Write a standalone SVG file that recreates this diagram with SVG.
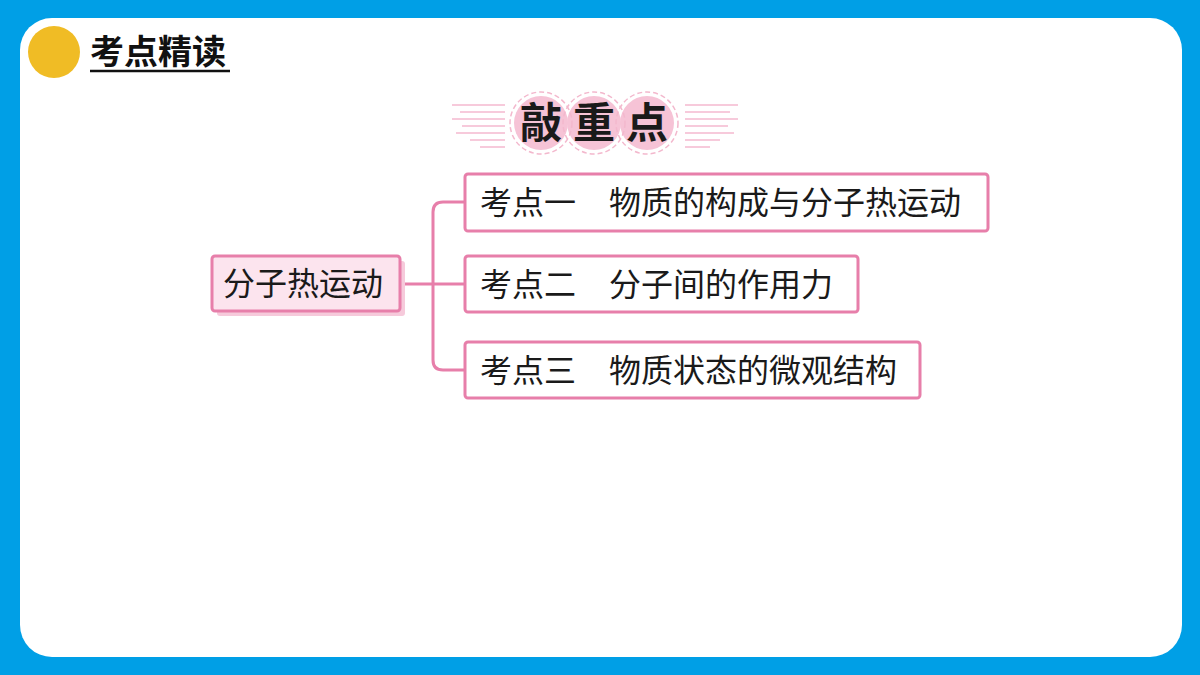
<svg xmlns="http://www.w3.org/2000/svg" width="1200" height="675" viewBox="0 0 1200 675">
<style>
.cjk{font-family:"Noto Sans CJK SC","Noto Sans",sans-serif;}
.box{fill:#ffffff;stroke:#E77FAA;stroke-width:3;}
.t{font-size:32px;fill:#1a1a1a;}
.conn{fill:none;stroke:#E77FAA;stroke-width:3;}
.dl{stroke:#F7CADB;stroke-width:2;fill:none;}
</style>
<rect x="0" y="0" width="1200" height="675" fill="#009FE6"/>
<rect x="20" y="18" width="1162" height="639" rx="32" fill="#ffffff"/>
<g id="header">
<circle cx="54" cy="52" r="26" fill="#F0BC25"/>
<text x="90" y="64" class="cjk" font-size="34" font-weight="bold" fill="#111">考点精读</text>
<line x1="90" y1="71" x2="230" y2="71" stroke="#111" stroke-width="2.5"/>
</g>
<g id="banner">
<g class="dl">
<path d="M452 105 H505 M460 112 H505 M452 119 H505 M462 126 H505 M456 133 H505 M470 140 H505 M480 147 H505"/>
<path d="M738 105 H685 M730 112 H685 M738 119 H685 M728 126 H685 M734 133 H685 M720 140 H685 M710 147 H685"/>
</g>
<circle cx="541" cy="123" r="27" fill="#F6C3D6"/>
<circle cx="594" cy="123" r="27" fill="#F6C3D6"/>
<circle cx="647" cy="123" r="27" fill="#F6C3D6"/>
<circle cx="541" cy="123" r="31" fill="none" stroke="#F3B8CD" stroke-width="1.5" stroke-dasharray="5 3"/>
<circle cx="594" cy="123" r="31" fill="none" stroke="#F3B8CD" stroke-width="1.5" stroke-dasharray="5 3"/>
<circle cx="647" cy="123" r="31" fill="none" stroke="#F3B8CD" stroke-width="1.5" stroke-dasharray="5 3"/>
<text x="541" y="138" text-anchor="middle" class="cjk" font-size="42" font-weight="bold" fill="#1a1a1a">敲</text>
<text x="594" y="138" text-anchor="middle" class="cjk" font-size="42" font-weight="bold" fill="#1a1a1a">重</text>
<text x="647" y="138" text-anchor="middle" class="cjk" font-size="42" font-weight="bold" fill="#1a1a1a">点</text>
</g>
<g id="connectors">
<path class="conn" d="M400 284 H433"/>
<path class="conn" d="M465 202 H443 Q433 202 433 212 V360 Q433 370 443 370 H465"/>
<path class="conn" d="M433 284 H465"/>
</g>
<g id="root">
<rect x="217" y="261" width="188" height="55" rx="3" fill="#F6CADB"/>
<rect x="212" y="256" width="188" height="55" rx="3" fill="#FCE4EE" stroke="#E77FAA" stroke-width="3"/>
<text x="223" y="295" class="cjk t">分子热运动</text>
</g>
<g id="n1">
<rect class="box" x="465" y="174" width="523" height="57" rx="3"/>
<text x="480" y="214" class="cjk t">考点一</text>
<text x="609" y="214" class="cjk t">物质的构成与分子热运动</text>
</g>
<g id="n2">
<rect class="box" x="465" y="256" width="393" height="56" rx="3"/>
<text x="480" y="296" class="cjk t">考点二</text>
<text x="609" y="296" class="cjk t">分子间的作用力</text>
</g>
<g id="n3">
<rect class="box" x="465" y="342" width="455" height="56" rx="3"/>
<text x="480" y="382" class="cjk t">考点三</text>
<text x="609" y="382" class="cjk t">物质状态的微观结构</text>
</g>
</svg>
